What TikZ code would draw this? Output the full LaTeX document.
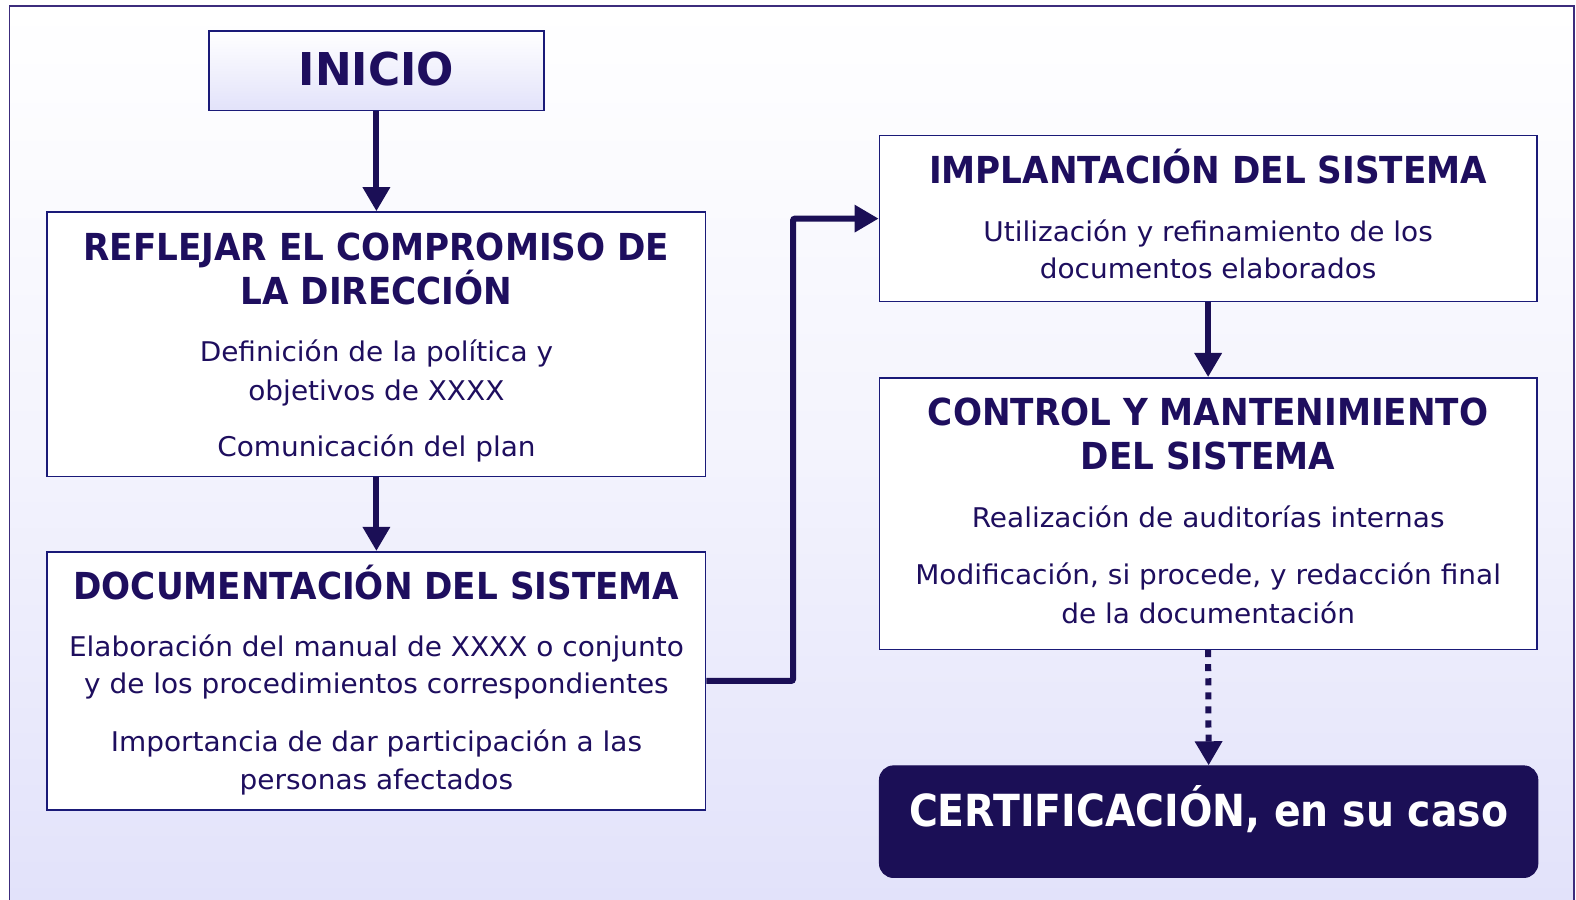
\documentclass[tikz,border=0pt]{standalone}
\usepackage{fontspec}
\setmainfont{DejaVu Sans}
\newfontfamily\ttlfont{DejaVu Sans Bold}[FakeStretch=0.92]
\newfontfamily\inifont{DejaVu Sans Bold}[FakeStretch=0.97]
\newfontfamily\certfont{DejaVu Sans Bold}[FakeStretch=0.89]
\newfontfamily\txtfont{DejaVu Sans}[FakeStretch=1.03]
\usetikzlibrary{arrows.meta}
\definecolor{ink}{HTML}{1E0E5E}
\definecolor{boxline}{HTML}{1A1A78}
\definecolor{arrowc}{HTML}{1B0F56}
\definecolor{lav}{HTML}{E2E2FA}
\definecolor{framec}{HTML}{3C2C7C}
\tikzset{
  box/.style={draw=boxline, line width=1.6bp, fill=white, inner sep=0bp},
  ttl/.style={inner sep=0bp, anchor=base, text=ink, font=\ttlfont\fontsize{37bp}{44bp}\selectfont},
  txt/.style={inner sep=0bp, anchor=base, text=ink, font=\txtfont\fontsize{27bp}{37bp}\selectfont},
  arr/.style={draw=arrowc, line width=6bp, -{Triangle[length=24bp,width=26bp]}},
}
\begin{document}
\begin{tikzpicture}[x=1bp,y=-1bp]
\useasboundingbox (0,0) rectangle (1568,895.4);
\fill[white] (0,0) rectangle (1568,895.4);
\shade[top color=white, bottom color=lav, middle color=white!60!lav] (9.5,6) rectangle (1566,895.4);
\draw[framec, line width=1.8bp] (9.5,895.4) -- (9.5,6) -- (1566,6) -- (1566,895.4);
% boxes
\node[draw=boxline, line width=1.6bp, inner sep=0bp, top color=white, bottom color=lav, minimum width=333bp, minimum height=79bp] (ini) at (374.5,70.5) {};
\node[box, minimum width=655bp, minimum height=263bp] (ref) at (374.5,342.5) {};
\node[box, minimum width=655bp, minimum height=257bp] (doc) at (374.5,677.5) {};
\node[box, minimum width=654bp, minimum height=165bp] (imp) at (1202,217.5) {};
\node[box, minimum width=654bp, minimum height=270bp] (ctl) at (1202,511) {};
\node[draw=arrowc, fill=arrowc, rounded corners=14bp, line width=1bp, minimum width=655bp, minimum height=111bp, inner sep=0bp] (cert) at (1202.5,817.5) {};
% texts
\node[ttl, font=\inifont\fontsize{45bp}{50bp}\selectfont] (tini) at (374.5,85) {INICIO};
\node[ttl] (tref1) at (374.5,259) {REFLEJAR EL COMPROMISO DE};
\node[ttl] (tref2) at (374.5,303) {LA DIRECCIÓN};
\node[txt] (tref3) at (374.5,360) {Definición de la política y};
\node[txt] (tref4) at (374.5,398) {objetivos de XXXX};
\node[txt] (tref5) at (374.5,454) {Comunicación del plan};
\node[ttl] (tdoc1) at (374.5,596) {DOCUMENTACIÓN DEL SISTEMA};
\node[txt] (tdoc2) at (374.5,653) {Elaboración del manual de XXXX o conjunto};
\node[txt] (tdoc3) at (374.5,690) {y de los procedimientos correspondientes};
\node[txt] (tdoc4) at (374.5,748) {Importancia de dar participación a las};
\node[txt] (tdoc5) at (374.5,785) {personas afectados};
\node[ttl] (timp1) at (1202,183) {IMPLANTACIÓN DEL SISTEMA};
\node[txt] (timp2) at (1202,240) {Utilización y refinamiento de los};
\node[txt] (timp3) at (1202,277) {documentos elaborados};
\node[ttl] (tctl1) at (1202,423) {CONTROL Y MANTENIMIENTO};
\node[ttl] (tctl2) at (1202,467) {DEL SISTEMA};
\node[txt] (tctl3) at (1202,525) {Realización de auditorías internas};
\node[txt] (tctl4) at (1202,582) {Modificación, si procede, y redacción final};
\node[txt] (tctl5) at (1202,620) {de la documentación};
\node[ttl, text=white, font=\certfont\fontsize{44bp}{50bp}\selectfont] (tcert) at (1202.5,822) {CERTIFICACIÓN, en su caso};
% arrows
\draw[arr] (ini.south) -- (ref.north);
\draw[arr] (ref.south) -- (doc.north);
\draw[arr, rounded corners=2bp] (doc.east) -- (789,677.5) |- (imp.west);
\draw[arr] (imp.south) -- (ctl.north);
\draw[arr, dash pattern=on 7bp off 7bp] (ctl.south) -- (cert.north);
\end{tikzpicture}
\end{document}
